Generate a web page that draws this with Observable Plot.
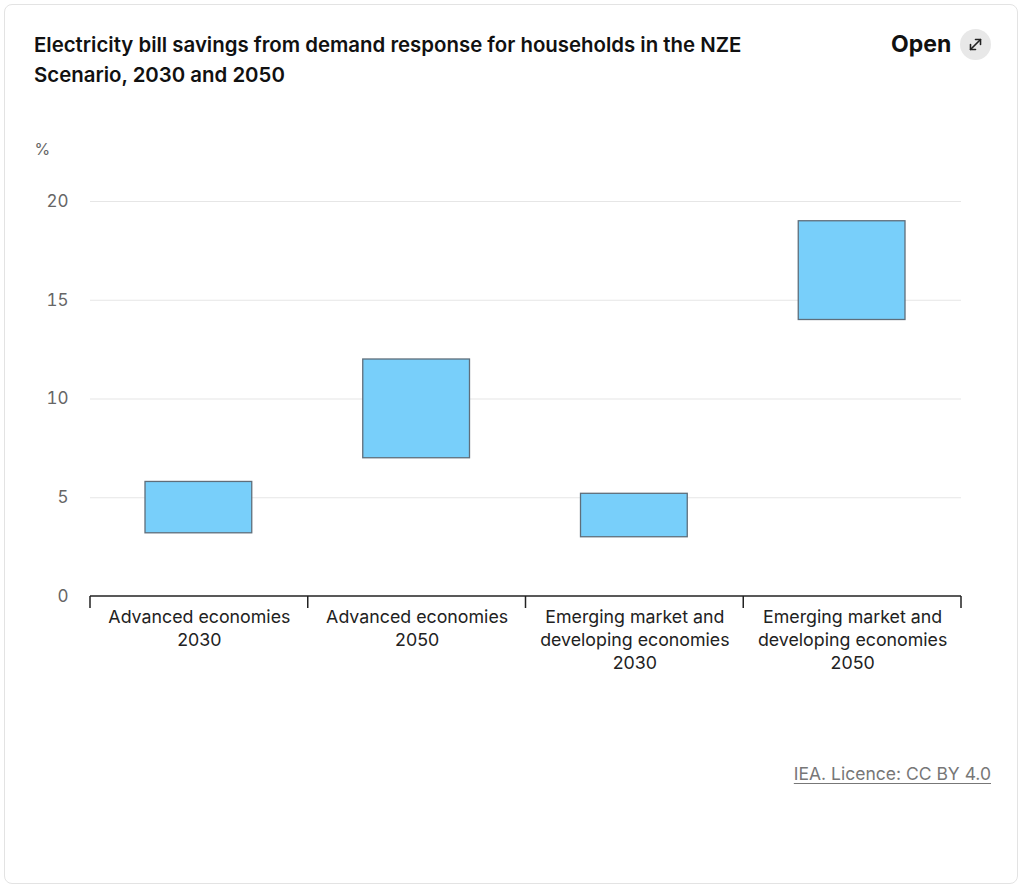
<!DOCTYPE html>
<html>
<head>
<meta charset="utf-8">
<script src="https://cdn.jsdelivr.net/npm/d3@7"></script>
<script src="https://cdn.jsdelivr.net/npm/@observablehq/plot@0.6"></script>
<style>
  html, body { margin: 0; padding: 0; background: #fff; }
  body { width: 1024px; height: 890px; position: relative; font-family: Inter, "Noto Sans", sans-serif; overflow: hidden; }
  #card { position: absolute; left: 4px; top: 4px; width: 1014px; height: 880px; border: 1.5px solid #e3e3e3; border-radius: 8px; box-sizing: border-box; }
  #title { position: absolute; left: 34px; top: 30px; width: 780px; font-size: 20.4px; font-weight: 600; line-height: 30px; color: #111; }
  #open { position: absolute; left: 891px; top: 30px; font-size: 23px; font-weight: 700; color: #111; }
  #openicon { position: absolute; left: 960px; top: 29px; width: 31px; height: 31px; border-radius: 50%; background: #e8e8e8; }
  #chart { position: absolute; left: 0; top: 130px; }
  #credit { position: absolute; right: 33px; top: 763px; font-size: 17.5px; color: #777; text-decoration: underline; text-underline-offset: 3px; }
</style>
</head>
<body>
<div id="card"></div>
<div id="title">Electricity bill savings from demand response for households in the NZE Scenario, 2030 and 2050</div>
<div id="open">Open</div>
<div id="openicon"><svg width="31" height="31" viewBox="0 0 31 31"><g stroke="#222" stroke-width="1.6" fill="none" stroke-linecap="round" stroke-linejoin="round"><line x1="10.5" y1="20.5" x2="20.5" y2="10.5"/><polyline points="15.5,10.5 20.5,10.5 20.5,15.5"/><polyline points="10.5,15.5 10.5,20.5 15.5,20.5"/></g></svg></div>
<div id="chart"></div>
<div id="credit">IEA. Licence: CC BY 4.0</div>
<script>
const categories = [
  "Advanced economies\n2030",
  "Advanced economies\n2050",
  "Emerging market and\ndeveloping economies\n2030",
  "Emerging market and\ndeveloping economies\n2050"
];
const lowValues = [3.2, 7, 3, 14];
const highValues = [5.8, 12, 5.2, 19];
const yTicks = [0, 5, 10, 15, 20];

const data = categories.map((c, i) => ({cat: c, lo: lowValues[i], hi: highValues[i]}));

function boundaryTicks(index, scales, values, dimensions) {
  const g = d3.create("svg:g");
  const x = scales.x;
  const y0 = scales.y(0);
  const bw = x.bandwidth();
  const xs = categories.map(c => x(c)).concat([x(categories[categories.length - 1]) + bw]);
  g.selectAll("line").data(xs).join("line")
    .attr("x1", d => d).attr("x2", d => d)
    .attr("y1", y0).attr("y2", y0 + 12)
    .attr("stroke", "#222").attr("stroke-width", 1.5);
  g.append("line")
    .attr("x1", xs[0]).attr("x2", xs[xs.length - 1])
    .attr("y1", y0).attr("y2", y0)
    .attr("stroke", "#222").attr("stroke-width", 1.5);
  return g.node();
}

const chart = Plot.plot({
  width: 1024,
  height: 556,
  marginLeft: 90,
  marginRight: 63,
  marginTop: 71,
  marginBottom: 90,
  style: {fontFamily: "Inter, 'Noto Sans', sans-serif", background: "transparent"},
  x: {domain: categories, padding: 0, round: false, axis: null},
  y: {domain: [0, 20], axis: null},
  marks: [
    Plot.ruleY(yTicks.filter(d => d > 0), {y: d => d, stroke: "#e6e6e6", strokeWidth: 1.2}),
    Plot.axisY(yTicks, {tickSize: 0, tickPadding: 22, fontSize: 17, fill: "#666", label: null}),
    Plot.text(["%"], {frameAnchor: "top-left", dx: -56, dy: -58, fontSize: 16, fill: "#666", textAnchor: "start"}),
    Plot.barY(data, {x: "cat", y1: "lo", y2: "hi", fill: "#78cffa", stroke: "#5f6e7a", strokeWidth: 1.3, insetLeft: 55, insetRight: 56}),
    boundaryTicks,
    Plot.axisX({tickSize: 0, tickPadding: 10, fontSize: 17.8, fill: "#222", label: null, lineHeight: 1.29})
  ]
});
document.getElementById("chart").appendChild(chart);
</script>
</body>
</html>
